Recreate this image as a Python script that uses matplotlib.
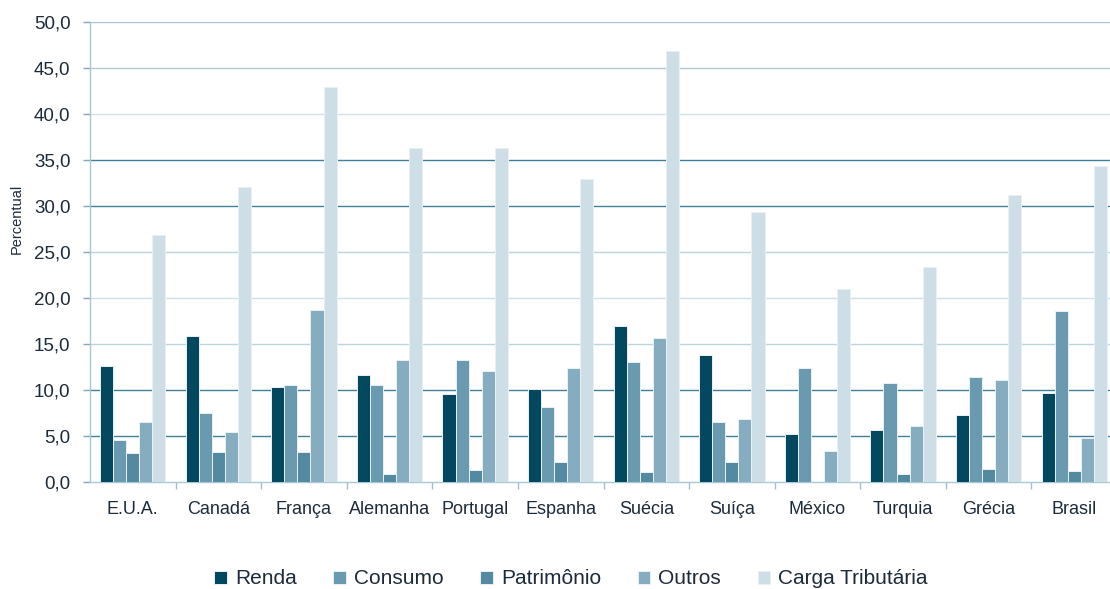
import matplotlib
matplotlib.use("Agg")
import matplotlib.pyplot as plt
import numpy as np

plt.rcParams['font.family'] = ['Liberation Sans', 'DejaVu Sans']

countries = ["E.U.A.", "Canadá", "França", "Alemanha", "Portugal", "Espanha",
             "Suécia", "Suíça", "México", "Turquia", "Grécia", "Brasil"]
renda      = [12.6, 15.9, 10.3, 11.6, 9.6, 10.1, 17.0, 13.8, 5.2, 5.7, 7.3, 9.7]
consumo    = [4.6, 7.5, 10.5, 10.5, 13.3, 8.2, 13.0, 6.5, 12.4, 10.8, 11.4, 18.6]
patrimonio = [3.1, 3.3, 3.3, 0.9, 1.3, 2.2, 1.1, 2.2, 0.0, 0.9, 1.4, 1.2]
outros     = [6.5, 5.4, 18.7, 13.3, 12.1, 12.4, 15.7, 6.8, 3.4, 6.1, 11.1, 4.8]
carga      = [26.8, 32.1, 42.9, 36.3, 36.3, 32.9, 46.9, 29.3, 21.0, 23.4, 31.2, 34.4]

series_names = ["Renda", "Consumo", "Patrimônio", "Outros", "Carga Tributária"]
series_vals = [renda, consumo, patrimonio, outros, carga]
colors = ["#04485f", "#6a9aaf", "#548aa1", "#86acbf", "#cddee7"]

yticks = [0, 5, 10, 15, 20, 25, 30, 35, 40, 45, 50]
ytick_labels = ["0,0", "5,0", "10,0", "15,0", "20,0", "25,0", "30,0", "35,0", "40,0", "45,0", "50,0"]
grid_colors = {0: None, 5: "#3f8099", 10: "#3f8099", 15: "#bcd4de", 20: "#cfdfe7",
               25: "#bcd4de", 30: "#3f8099", 35: "#3f8099", 40: "#d3e2e9",
               45: "#b3cad5", 50: "#a9c2ce"}

W, H = 1110, 589
fig = plt.figure(figsize=(W / 100, H / 100), dpi=100)
ax = fig.add_axes([90 / W, (H - 482) / H, (1117 - 90) / W, 460 / H])

txt = "#1c2b3a"
x = np.arange(len(countries))
bw = 0.1526
for i, (name, vals, c) in enumerate(zip(series_names, series_vals, colors)):
    ax.bar(x + (i - 2) * bw, vals, width=bw, color=c, edgecolor="#e9f1f5",
           linewidth=0.7, label=name, zorder=3)

for v in yticks:
    if grid_colors[v]:
        ax.axhline(v, color=grid_colors[v], linewidth=1.0, zorder=1)

ax.set_xlim(-0.5, len(countries) - 0.5)
ax.set_ylim(0, 50)
ax.set_yticks(yticks)
ax.set_yticklabels(ytick_labels, fontsize=13.5, color=txt)
ax.tick_params(axis='y', length=5, width=1, color="#7fa8ba", pad=9)

ax.set_xticks(x)
ax.set_xticklabels(countries, fontsize=13, color=txt)
ax.tick_params(axis='x', which='major', length=0, pad=14)
ax.set_xticks(np.arange(len(countries)) + 0.5, minor=True)
ax.tick_params(axis='x', which='minor', length=5, width=1, color="#9fc0cf")

for s in ["top", "right"]:
    ax.spines[s].set_visible(False)
ax.spines["left"].set_color("#a9c8d6")
ax.spines["left"].set_linewidth(1.0)
ax.spines["bottom"].set_color("#a9c8d6")
ax.spines["bottom"].set_linewidth(1.0)

fig.text(17 / W, 1 - 219 / H, "Percentual", rotation=90, fontsize=10.5,
         color=txt, ha="center", va="center")

leg = fig.legend(loc="center", bbox_to_anchor=(571 / W, 1 - 579 / H), ncol=5,
                 frameon=False, fontsize=15, handlelength=0.6, handleheight=0.6,
                 handletextpad=0.4, columnspacing=1.75, labelcolor=txt)

fig.savefig("out.png", dpi=100)
